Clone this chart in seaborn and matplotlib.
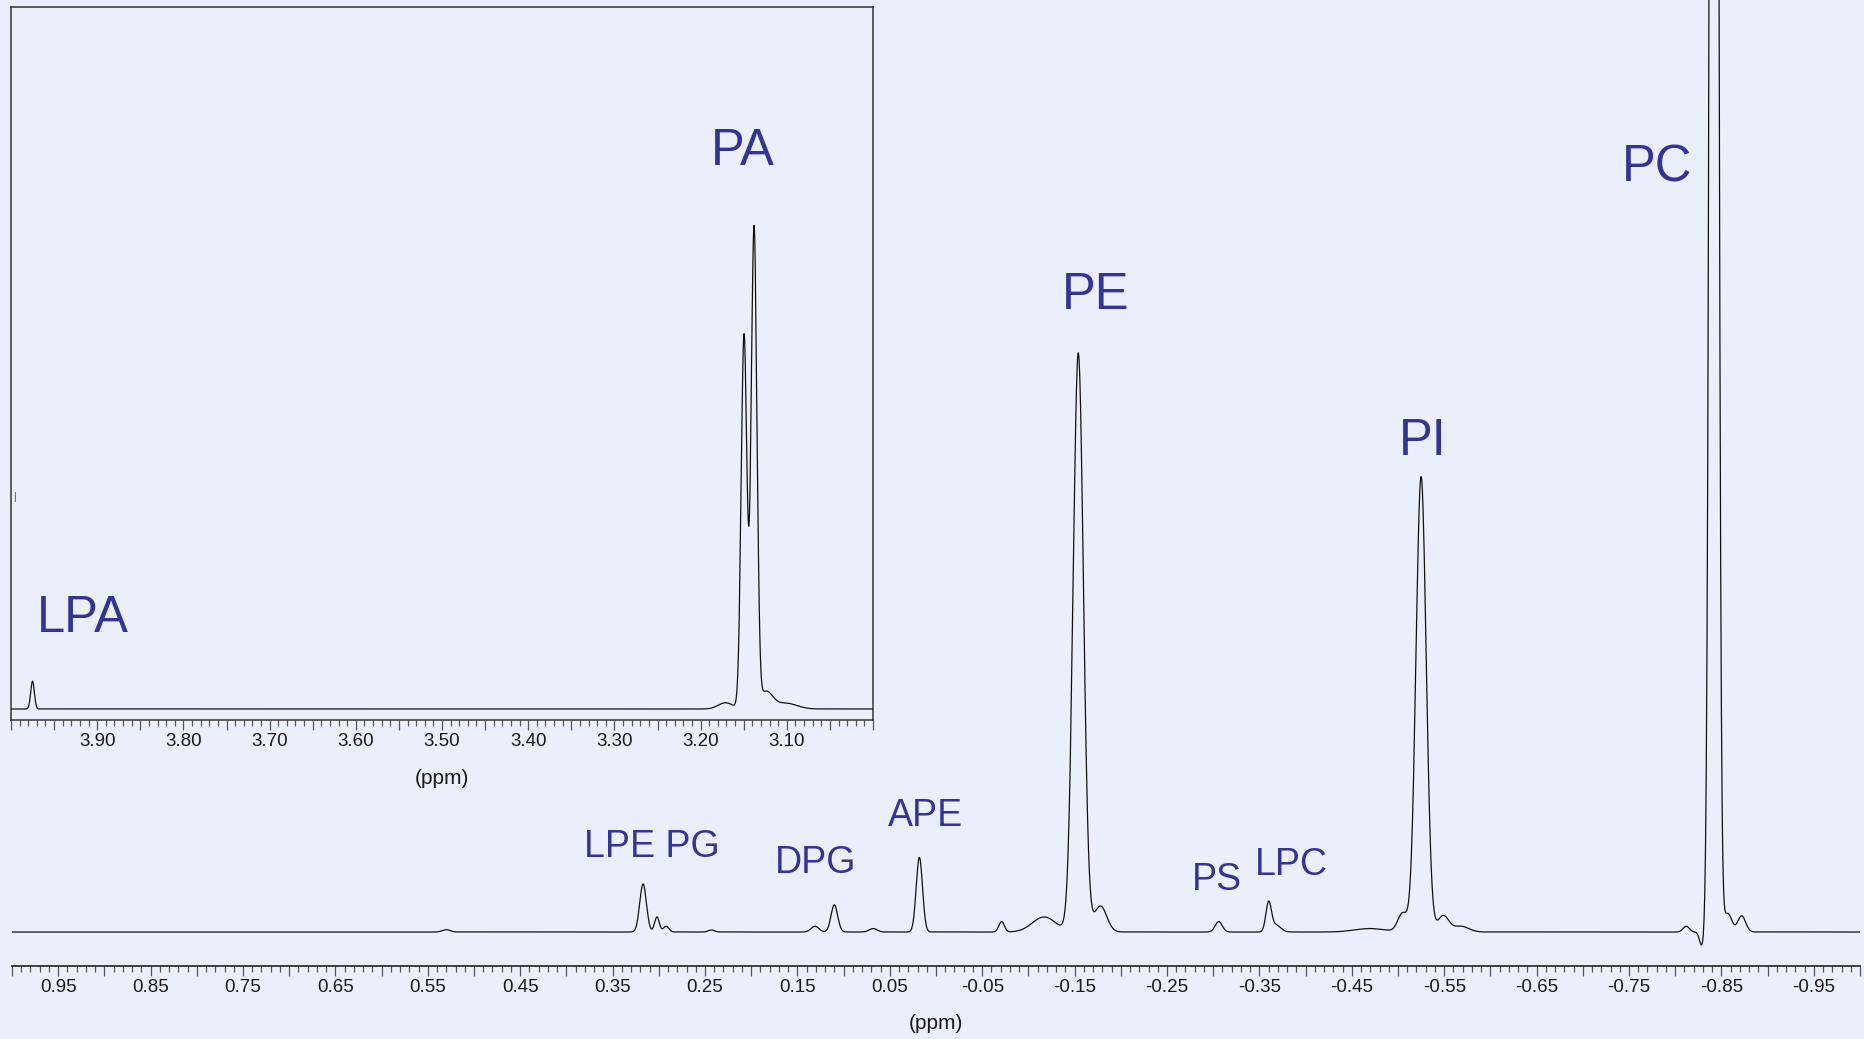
"""
31P NMR phospholipid spectrum with PA/LPA inset
"""

import numpy as np
import pandas as pd
import matplotlib
matplotlib.use("Agg")
import matplotlib.pyplot as plt
from matplotlib.ticker import MultipleLocator, FuncFormatter
import seaborn as sns

BG = "#eaf0fb"
NAME_COLOR = "#33339a"
LINE_COLOR = "#111111"

# main region: peak shifts (ppm), heights (PE = 100), line widths (FWHM, ppm)
main_shift = [0.530, 0.317, 0.302, 0.292, 0.243, 0.131, 0.110, 0.068, 0.018,
              -0.071, -0.117, -0.154, -0.178, -0.306, -0.360, -0.368, -0.470,
              -0.505, -0.525, -0.549, -0.568, -0.812, -0.829, -0.842, -0.857, -0.872]
main_height = [0.4, 8.3, 2.6, 1.0, 0.35, 1.0, 4.7, 0.6, 12.9,
               1.8, 2.6, 100.0, 4.5, 1.8, 5.0, 1.2, 0.6,
               3.2, 78.7, 2.8, 1.0, 1.0, -2.5, 600.0, 3.2, 2.8]
main_width = [0.010, 0.0085, 0.006, 0.007, 0.008, 0.010, 0.0085, 0.010, 0.008,
              0.007, 0.030, 0.013, 0.016, 0.009, 0.007, 0.012, 0.040,
              0.012, 0.013, 0.014, 0.020, 0.008, 0.006, 0.008, 0.010, 0.010]

# inset region (3.0 - 4.0 ppm): heights relative to the taller PA line = 100
inset_shift = [3.975, 3.171, 3.1496, 3.138, 3.124, 3.101]
inset_height = [5.8, 1.3, 78.0, 100.0, 3.5, 1.2]
inset_width = [0.005, 0.020, 0.0078, 0.0078, 0.018, 0.030]

main_names = ["PC", "PE", "PI", "APE", "LPE PG", "DPG", "PS", "LPC"]
main_name_big = [True, True, True, False, False, False, False, False]
inset_names = ["PA", "LPA"]

main_tick_values = [0.95, 0.85, 0.75, 0.65, 0.55, 0.45, 0.35, 0.25, 0.15, 0.05,
                    -0.05, -0.15, -0.25, -0.35, -0.45, -0.55, -0.65, -0.75, -0.85, -0.95]
main_tick_labels = ["0.95", "0.85", "0.75", "0.65", "0.55", "0.45", "0.35", "0.25", "0.15", "0.05",
                    "-0.05", "-0.15", "-0.25", "-0.35", "-0.45", "-0.55", "-0.65", "-0.75", "-0.85", "-0.95"]
inset_tick_values = [3.90, 3.80, 3.70, 3.60, 3.50, 3.40, 3.30, 3.20, 3.10]
inset_tick_labels = ["3.90", "3.80", "3.70", "3.60", "3.50", "3.40", "3.30", "3.20", "3.10"]

# label anchor points (ppm, intensity) - text baseline, centred
main_name_pos = [(-0.780, 129.6), (-0.1725, 107.6), (-0.5264, 82.4), (0.0116, 18.3),
                 (0.3076, 12.9), (0.130, 10.2), (-0.3037, 7.2), (-0.3848, 9.9)]
inset_name_pos = [(3.151, 113.4), (3.9165, 16.1)]


def build_spectrum(lo, hi, step, shifts, heights, widths):
    """Sum of gaussian lines on a ppm grid"""
    ppm = np.arange(lo, hi + step, step)
    y = np.zeros_like(ppm)
    for c, h, w in zip(shifts, heights, widths):
        y += h * np.exp(-4 * np.log(2) * ((ppm - c) / w) ** 2)
    return pd.DataFrame({"ppm": ppm, "intensity": y})


def label_formatter(values, labels):
    lookup = {round(v, 2): s for v, s in zip(values, labels)}
    return FuncFormatter(lambda x, pos: lookup.get(round(x, 2), ""))


def style_axis(ax, values, labels):
    ax.xaxis.set_major_locator(MultipleLocator(0.05))
    ax.xaxis.set_minor_locator(MultipleLocator(0.01))
    ax.xaxis.set_major_formatter(label_formatter(values, labels))
    ax.tick_params(axis="x", which="both", bottom=True, top=False)
    ax.tick_params(axis="x", which="major", direction="out", length=7.5, width=0.9,
                   color="#555555", pad=2, labelsize=13.5, labelcolor="#1a1a1a")
    ax.tick_params(axis="x", which="minor", direction="out", length=4.5, width=0.9,
                   color="#555555")
    ax.set_yticks([])
    ax.set_ylabel("")
    ax.set_facecolor(BG)


sns.set_theme(style="white")
plt.rcParams["font.family"] = ["Liberation Sans", "DejaVu Sans"]

W, H = 1865, 1039
fig = plt.figure(figsize=(W / 100, H / 100), dpi=100, facecolor=BG)

# main spectrum
ax = fig.add_axes([12 / W, 73 / H, 1848 / W, 966 / H])
main_df = build_spectrum(-1.0, 1.0, 0.0004, main_shift, main_height, main_width)
sns.lineplot(data=main_df, x="ppm", y="intensity", ax=ax, color=LINE_COLOR,
             linewidth=0.9, estimator=None, sort=False)
ax.set_xlim(1.0, -1.0)
ax.set_ylim(-5.87, 161.0)
style_axis(ax, main_tick_values, main_tick_labels)
sns.despine(ax=ax, left=True, top=True, right=True)
ax.spines["bottom"].set_color("#222222")
ax.spines["bottom"].set_linewidth(1.2)
ax.set_xlabel("(ppm)", fontsize=15, color="#1a1a1a")
ax.xaxis.set_label_coords(0.5, -0.050)

for name, big, (px, py) in zip(main_names, main_name_big, main_name_pos):
    ax.text(px, py, name, ha="center", va="baseline", color=NAME_COLOR,
            fontsize=36.5 if big else 27)

# inset: 3.0 - 4.0 ppm
ax_in = fig.add_axes([11 / W, (H - 719.5) / H, 862 / W, 712.5 / H])
inset_df = build_spectrum(3.0, 4.0, 0.0002, inset_shift, inset_height, inset_width)
sns.lineplot(data=inset_df, x="ppm", y="intensity", ax=ax_in, color=LINE_COLOR,
             linewidth=0.9, estimator=None, sort=False)
ax_in.set_xlim(4.0, 3.0)
ax_in.set_ylim(-2.19, 146.4)
style_axis(ax_in, inset_tick_values, inset_tick_labels)
for side in ["left", "top", "right", "bottom"]:
    ax_in.spines[side].set_visible(True)
    ax_in.spines[side].set_color("#333333")
    ax_in.spines[side].set_linewidth(1.1)
ax_in.set_xlabel("(ppm)", fontsize=15, color="#1a1a1a")
ax_in.xaxis.set_label_coords(0.5, -0.070)
ax_in.text(0.0035, 0.312, "|", transform=ax_in.transAxes, ha="center", va="center",
           fontsize=7, color="#333333")

for name, (px, py) in zip(inset_names, inset_name_pos):
    ax_in.text(px, py, name, ha="center", va="baseline", color=NAME_COLOR, fontsize=36.5)

fig.savefig("out.png", dpi=100, facecolor=BG)
plt.close(fig)
